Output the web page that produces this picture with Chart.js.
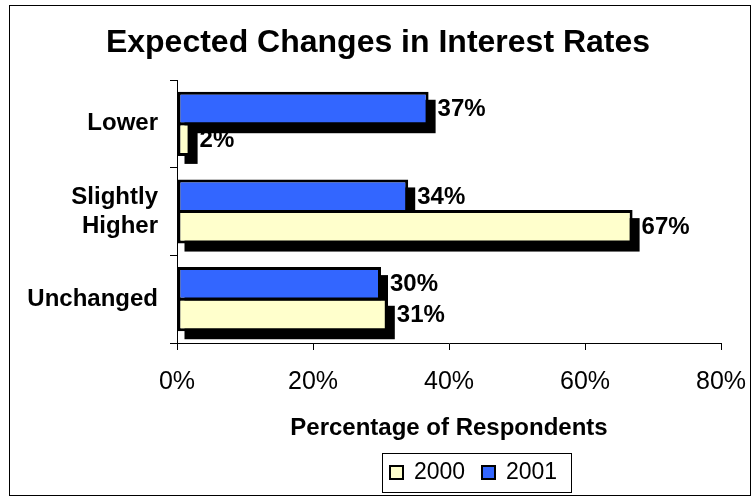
<!DOCTYPE html>
<html>
<head>
<meta charset="utf-8">
<title>Expected Changes in Interest Rates</title>
<script src="https://cdn.jsdelivr.net/npm/chart.js@4.4.1/dist/chart.umd.min.js"></script>
<style>
  html, body { margin: 0; padding: 0; background: #fff; }
  #wrap { width: 755px; height: 498px; position: relative; }
</style>
</head>
<body>
<div id="wrap"><canvas id="rates"></canvas></div>
<script>
const categories = ['Lower', ['Slightly', 'Higher'], 'Unchanged'];
const years      = ['2001', '2000'];
const values2001 = [37, 34, 30];
const values2000 = [2, 67, 31];
const xTicks     = [0, 20, 40, 60, 80];

const BLUE   = '#3366ff';
const CREAM  = '#ffffcc';
const FONT   = '"Liberation Sans", Arial, sans-serif';

Chart.defaults.font.family = FONT;
Chart.defaults.color = '#000';

// ── drop shadows behind every bar ────────────────────────────────
const barShadow = {
  id: 'barShadow',
  beforeDatasetsDraw(chart) {
    const ctx = chart.ctx;
    ctx.save();
    ctx.fillStyle = '#000';
    chart.data.datasets.forEach((ds, i) => {
      chart.getDatasetMeta(i).data.forEach(el => {
        const p = el.getProps(['x', 'y', 'base', 'height'], true);
        ctx.fillRect(p.base + 7, p.y - p.height / 2 + 8, p.x - p.base, p.height);
      });
    });
    ctx.restore();
  }
};

// ── value labels at the end of the bars ──────────────────────────
const valueLabels = {
  id: 'valueLabels',
  afterDatasetsDraw(chart) {
    const ctx = chart.ctx;
    ctx.save();
    ctx.font = 'bold 24px ' + FONT;
    ctx.fillStyle = '#000';
    ctx.textAlign = 'left';
    ctx.textBaseline = 'middle';
    chart.data.datasets.forEach((ds, i) => {
      chart.getDatasetMeta(i).data.forEach((el, j) => {
        const p = el.getProps(['x', 'y'], true);
        ctx.fillText(ds.data[j] + '%', p.x + 9, p.y + 1);
      });
    });
    ctx.restore();
  }
};

// ── title, outer frame and boxed legend ──────────────────────────
const decorations = {
  id: 'decorations',
  afterDraw(chart) {
    const ctx = chart.ctx;
    ctx.save();

    ctx.strokeStyle = '#000';
    ctx.lineWidth = 1;
    ctx.strokeRect(9.5, 5.5, 741, 490);

    ctx.font = 'bold 32px ' + FONT;
    ctx.textAlign = 'center';
    ctx.textBaseline = 'middle';
    ctx.fillText('Expected Changes in Interest Rates', 378, 43);

    // legend: 2000 first, then 2001
    ctx.strokeStyle = '#000';
    ctx.strokeRect(382.5, 453.5, 189, 39);
    ctx.font = '23px ' + FONT;
    ctx.textAlign = 'left';
    let x = 390;
    [...chart.data.datasets].reverse().forEach(ds => {
      ctx.fillStyle = ds.backgroundColor;
      ctx.fillRect(x, 466, 13, 13);
      ctx.lineWidth = 2;
      ctx.strokeRect(x, 466, 13, 13);
      ctx.fillStyle = '#000';
      ctx.fillText(ds.label, x + 24, 473);
      x += 92;
    });
    ctx.restore();
  }
};

new Chart(document.getElementById('rates'), {
  type: 'bar',
  data: {
    labels: categories,
    datasets: [
      {
        label: years[0],
        data: values2001,
        backgroundColor: BLUE,
        borderColor: '#000',
        borderWidth: 3,
        borderSkipped: false
      },
      {
        label: years[1],
        data: values2000,
        backgroundColor: CREAM,
        borderColor: '#000',
        borderWidth: 3,
        borderSkipped: false
      }
    ]
  },
  options: {
    indexAxis: 'y',
    responsive: true,
    maintainAspectRatio: false,
    animation: false,
    layout: { padding: { top: 80, left: 9, right: 34, bottom: 55 } },
    datasets: { bar: { categoryPercentage: 0.70, barPercentage: 1.09 } },
    plugins: {
      legend: { display: false },
      title: { display: false },
      tooltip: { enabled: false }
    },
    scales: {
      x: {
        min: xTicks[0],
        max: xTicks[xTicks.length - 1],
        afterFit: s => { s.height = 100; s.paddingLeft = 0; s.paddingRight = 0; },
        afterBuildTicks: s => { s.ticks = xTicks.map(v => ({ value: v })); },
        ticks: {
          font: { size: 25 },
          padding: 17,
          callback: v => v + '%'
        },
        grid: { drawOnChartArea: false, tickLength: 7, color: '#000' },
        border: { color: '#000' },
        title: {
          display: true,
          text: 'Percentage of Respondents',
          font: { size: 24, weight: 'bold' },
          padding: { top: 0, bottom: 0 }
        }
      },
      y: {
        afterFit: s => { s.width = 168; s.paddingTop = 0; s.paddingBottom = 0; },
        ticks: {
          font: { size: 24, weight: 'bold' },
          padding: 12
        },
        grid: { offset: true, drawOnChartArea: false, tickLength: 7, color: '#000' },
        border: { color: '#000' }
      }
    }
  },
  plugins: [barShadow, valueLabels, decorations]
});
</script>
</body>
</html>
